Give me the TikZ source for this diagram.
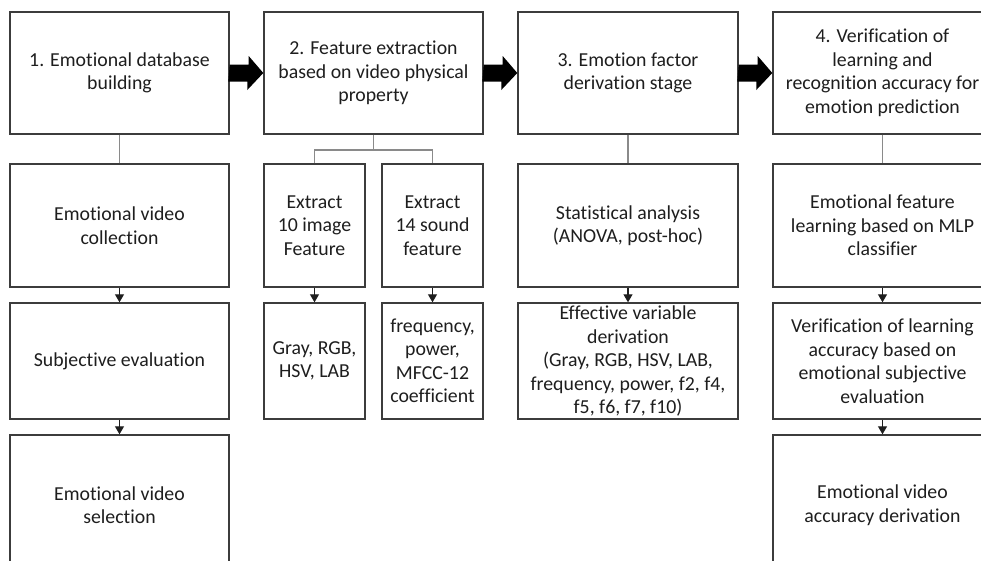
\documentclass[tikz,border=0pt]{standalone}
\usepackage{fontspec}
\setmainfont{Carlito}[Ligatures=NoCommon]
\usetikzlibrary{arrows.meta,calc}

\definecolor{boxline}{HTML}{3C3C3C}
\definecolor{linkgray}{HTML}{8A8A8A}
\definecolor{ink}{HTML}{1E1E1E}

\tikzset{
  stage/.style={draw=boxline, line width=1.4pt, fill=white, text=ink,
    align=center, inner sep=2pt,
    font=\fontsize{19.8}{23.5}\selectfont},
  link/.style={draw=linkgray, line width=1.3pt},
  flow/.style={draw=ink, line width=1.1pt,
    -{Triangle[width=9pt,length=8pt]}},
}

% thick block arrow from the right side of one box to the left side of the next
\newcommand\blockarrow[2]{%
  \fill[black] ($(#1.east)+(0,-8.5)$) -- ++(19,0) -- ++(0,-8.5) -- (#2.west)
    -- ++(-16,17) -- ++(0,-8.5) -- ++(-19,0) -- cycle;}

\begin{document}
\begin{tikzpicture}[x=1pt,y=-1pt]
  \useasboundingbox (0,0) rectangle (981,560);
  \fill[white] (0,0) rectangle (981,560);
  \clip (0,0) rectangle (981,560);

  % stage headers
  \node[stage, minimum width=219, minimum height=122] (t1) at (119.5,73)
    {1. Emotional database\\building};
  \node[stage, minimum width=219, minimum height=122] (t2) at (373.5,73)
    {2. Feature extraction\\based on video physical\\property};
  \node[stage, minimum width=220, minimum height=122] (t3) at (628,73)
    {3. Emotion factor\\derivation stage};
  \node[stage, minimum width=219, minimum height=122] (t4) at (882.5,73)
    {4. Verification of\\learning and\\recognition accuracy for\\emotion prediction};

  % second row
  \node[stage, minimum width=219, minimum height=123] (a1) at (119.5,225.5)
    {Emotional video\\collection};
  \node[stage, minimum width=101, minimum height=123] (a2a) at (314.5,225.5)
    {Extract\\10 image\\Feature};
  \node[stage, minimum width=101, minimum height=123] (a2b) at (432.5,225.5)
    {Extract\\14 sound\\feature};
  \node[stage, minimum width=220, minimum height=123] (a3) at (628,225.5)
    {Statistical analysis\\(ANOVA, post-hoc)};
  \node[stage, minimum width=219, minimum height=123] (a4) at (882.5,225.5)
    {Emotional feature\\learning based on MLP\\classifier};

  % third row
  \node[stage, minimum width=219, minimum height=116] (b1) at (119.5,361)
    {Subjective evaluation};
  \node[stage, minimum width=101, minimum height=116] (b2a) at (314.5,361)
    {Gray, RGB,\\HSV, LAB};
  \node[stage, minimum width=101, minimum height=116] (b2b) at (432.5,361)
    {frequency,\\power,\\MFCC-12\\coefficient};
  \node[stage, minimum width=220, minimum height=116] (b3) at (628,361)
    {Effective variable\\derivation\\(Gray, RGB, HSV, LAB,\\frequency, power, f2, f4,\\f5, f6, f7, f10)};
  \node[stage, minimum width=219, minimum height=116] (b4) at (882.5,361)
    {Verification of learning\\accuracy based on\\emotional subjective\\evaluation};

  % fourth row
  \node[stage, minimum width=219, minimum height=140] (c1) at (119.5,505)
    {Emotional video\\selection};
  \node[stage, minimum width=219, minimum height=140] (c4) at (882.5,505)
    {Emotional video\\accuracy derivation};

  % block arrows between stages
  \blockarrow{t1}{t2}
  \blockarrow{t2}{t3}
  \blockarrow{t3}{t4}

  % gray links from headers to their first steps
  \draw[link] (t1.south) -- (a1.north);
  \draw[link] (t3.south) -- (a3.north);
  \draw[link] (t4.south) -- (a4.north);
  \coordinate (fork) at (373.5,150);
  \draw[link] (t2.south) -- (fork);
  \draw[link] (a2a.north) |- (fork) -| (a2b.north);

  % step arrows
  \draw[flow] (a1) -- (b1);
  \draw[flow] (b1) -- (c1);
  \draw[flow] (a2a) -- (b2a);
  \draw[flow] (a2b) -- (b2b);
  \draw[flow] (a3) -- (b3);
  \draw[flow] (a4) -- (b4);
  \draw[flow] (b4) -- (c4);
\end{tikzpicture}
\end{document}
